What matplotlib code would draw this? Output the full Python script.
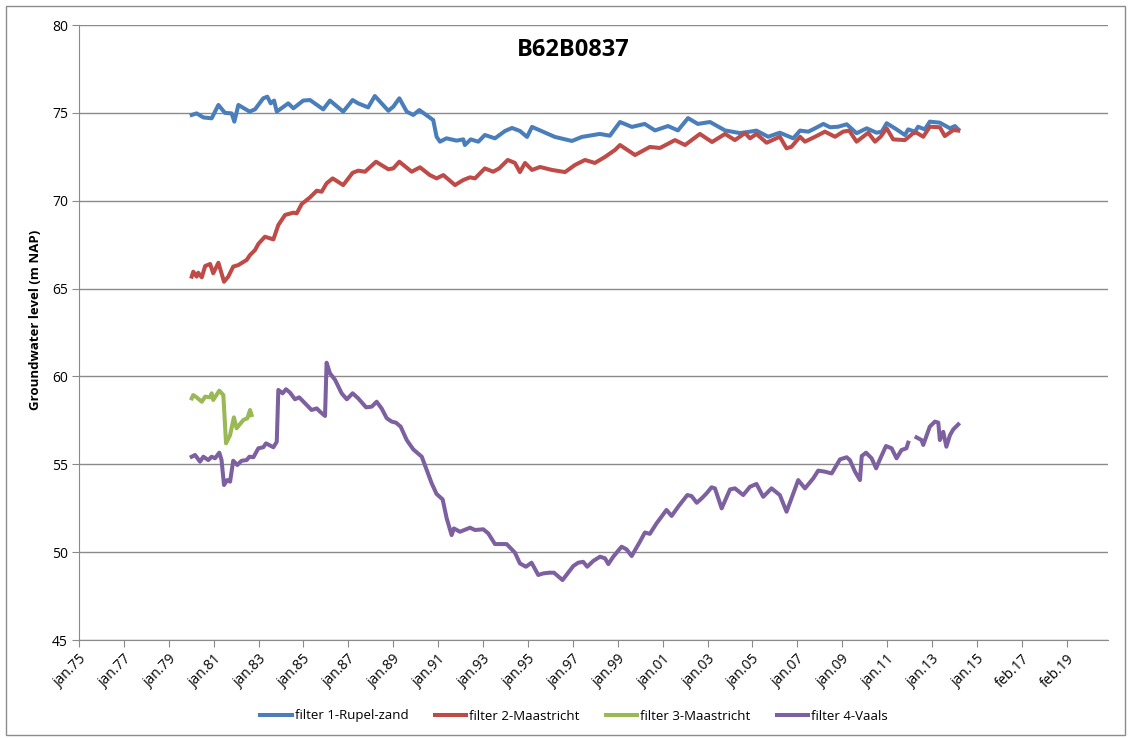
import numpy as np
import matplotlib.pyplot as plt
from matplotlib.patches import Rectangle

plt.rcParams['font.family'] = ['Open Sans', 'DejaVu Sans']

# filter 1-Rupel-zand
t1 = [1980.02, 1980.24, 1980.54, 1980.91, 1981.21, 1981.5, 1981.8, 1981.92, 1982.1,
      1982.6, 1982.84, 1983.21, 1983.39, 1983.54, 1983.69, 1983.81, 1984.32, 1984.55,
      1984.99, 1985.29, 1985.88, 1986.18, 1986.77, 1987.19, 1987.44, 1987.88, 1988.18,
      1988.78, 1989.0, 1989.27, 1989.6, 1989.89, 1990.16, 1990.78, 1990.93, 1991.08,
      1991.37, 1991.82, 1992.12, 1992.19, 1992.45, 1992.79, 1993.08, 1993.53, 1993.98,
      1994.29, 1994.64, 1994.96, 1995.18, 1995.54, 1996.2, 1996.96, 1997.4, 1998.2,
      1998.65, 1999.1, 1999.63, 2000.2, 2000.66, 2001.24, 2001.68, 2002.13, 2002.57,
      2003.11, 2003.78, 2004.44, 2004.89, 2005.18, 2005.7, 2006.22, 2006.82, 2007.12,
      2007.49, 2007.79, 2008.16, 2008.46, 2008.82, 2009.2, 2009.64, 2010.09, 2010.53,
      2010.76, 2010.98, 2011.42, 2011.79, 2011.94, 2012.24, 2012.38, 2012.68, 2012.9,
      2013.35, 2013.8, 2014.02, 2014.17]
v1 = [74.88, 74.97, 74.74, 74.69, 75.45, 75.0, 74.97, 74.5, 75.45,
      75.07, 75.2, 75.83, 75.92, 75.54, 75.7, 75.07, 75.54, 75.26,
      75.7, 75.73, 75.2, 75.7, 75.07, 75.73, 75.54, 75.31, 75.96,
      75.12, 75.35, 75.83, 75.07, 74.88, 75.16, 74.59, 73.64, 73.36,
      73.55, 73.42, 73.49, 73.17, 73.49, 73.36, 73.74, 73.55, 73.97,
      74.14, 73.97, 73.63, 74.2, 74.0, 73.63, 73.4, 73.63, 73.8,
      73.7, 74.48, 74.2, 74.37, 74.0, 74.25, 74.0, 74.7, 74.37,
      74.48, 74.0, 73.85, 73.93, 73.99, 73.64, 73.87, 73.55, 73.99,
      73.93, 74.12, 74.37, 74.18, 74.21, 74.35, 73.84, 74.12, 73.87,
      73.93, 74.41, 74.06, 73.74, 74.06, 73.93, 74.21, 74.06, 74.5,
      74.44, 74.12, 74.25, 74.06]

# filter 2-Maastricht
t2 = [1980.02, 1980.09, 1980.24, 1980.31, 1980.47, 1980.62, 1980.84, 1980.98, 1981.21,
      1981.46, 1981.65, 1981.87, 1982.1, 1982.47, 1982.62, 1982.84, 1982.99, 1983.28,
      1983.66, 1983.88, 1984.18, 1984.55, 1984.7, 1984.92, 1985.29, 1985.59, 1985.81,
      1986.03, 1986.3, 1986.77, 1987.19, 1987.44, 1987.74, 1988.23, 1988.78, 1989.0,
      1989.27, 1989.82, 1990.19, 1990.63, 1990.93, 1991.23, 1991.75, 1992.12, 1992.42,
      1992.64, 1993.08, 1993.45, 1993.72, 1994.1, 1994.42, 1994.64, 1994.87, 1995.18,
      1995.54, 1996.07, 1996.65, 1997.09, 1997.54, 1997.98, 1998.43, 1998.88, 1999.1,
      1999.77, 2000.43, 2000.88, 2001.55, 2002.0, 2002.66, 2003.2, 2003.78, 2004.22,
      2004.67, 2004.89, 2005.18, 2005.63, 2006.22, 2006.52, 2006.74, 2007.12, 2007.34,
      2007.79, 2008.23, 2008.68, 2009.04, 2009.31, 2009.64, 2010.16, 2010.46, 2010.71,
      2010.98, 2011.27, 2011.79, 2012.16, 2012.31, 2012.61, 2012.9, 2013.35, 2013.57,
      2013.95, 2014.17]
v2 = [65.68, 65.96, 65.68, 65.9, 65.64, 66.28, 66.4, 65.87, 66.47,
      65.39, 65.68, 66.25, 66.34, 66.63, 66.91, 67.19, 67.54, 67.95,
      67.8, 68.62, 69.19, 69.32, 69.28, 69.81, 70.19, 70.57, 70.51,
      70.99, 71.27, 70.89, 71.59, 71.71, 71.65, 72.22, 71.79, 71.84,
      72.22, 71.65, 71.9, 71.46, 71.27, 71.46, 70.89, 71.18, 71.33,
      71.27, 71.84, 71.65, 71.84, 72.32, 72.15, 71.63, 72.15, 71.75,
      71.92, 71.75, 71.63, 72.03, 72.32, 72.15, 72.49, 72.89, 73.17,
      72.6, 73.06, 73.0, 73.45, 73.17, 73.8, 73.34, 73.8, 73.45,
      73.85, 73.55, 73.8, 73.3, 73.64, 72.98, 73.07, 73.64, 73.36,
      73.64, 73.93, 73.64, 73.93, 73.99, 73.36, 73.87, 73.36, 73.64,
      74.12, 73.49, 73.45, 73.84, 73.87, 73.64, 74.21, 74.18, 73.68,
      74.02, 73.99]

# filter 3-Maastricht
t3 = [1980.02, 1980.09, 1980.24, 1980.47, 1980.62, 1980.84, 1980.91, 1980.98, 1981.25,
      1981.43, 1981.55, 1981.73, 1981.9, 1982.02, 1982.32, 1982.5, 1982.62, 1982.69]
v3 = [58.75, 58.94, 58.81, 58.56, 58.85, 58.81, 59.04, 58.66, 59.19,
      58.94, 56.19, 56.66, 57.67, 57.05, 57.52, 57.62, 58.09, 57.8]

# filter 4-Vaals (gap early 2012)
t4 = [1980.02, 1980.17, 1980.39, 1980.54, 1980.76, 1980.91, 1981.06, 1981.25, 1981.35,
      1981.46, 1981.6, 1981.73, 1981.87, 1982.05, 1982.24, 1982.47, 1982.59, 1982.77,
      1982.99, 1983.21, 1983.33, 1983.66, 1983.81, 1983.88, 1984.07, 1984.22, 1984.4,
      1984.62, 1984.81, 1985.07, 1985.36, 1985.59, 1985.74, 1985.96, 1986.03, 1986.18,
      1986.41, 1986.7, 1986.93, 1987.19, 1987.44, 1987.79, 1988.04, 1988.26, 1988.48,
      1988.71, 1988.93, 1989.12, 1989.33, 1989.6, 1989.89, 1990.27, 1990.49, 1990.71,
      1990.93, 1991.2, 1991.38, 1991.6, 1991.7, 1991.97, 1992.42, 1992.64, 1993.01,
      1993.23, 1993.53, 1994.05, 1994.42, 1994.64, 1994.91, 1995.16, 1995.46, 1995.68,
      1995.95, 1996.16, 1996.54, 1997.02, 1997.24, 1997.46, 1997.64, 1997.91, 1998.21,
      1998.43, 1998.58, 1998.8, 1999.17, 1999.39, 1999.62, 1999.99, 2000.21, 2000.43,
      2000.73, 2001.17, 2001.4, 2001.7, 2002.1, 2002.29, 2002.52, 2002.74, 2002.96,
      2003.18, 2003.33, 2003.63, 2004.0, 2004.22, 2004.59, 2004.89, 2005.18, 2005.48,
      2005.85, 2006.22, 2006.52, 2007.04, 2007.34, 2007.71, 2007.93, 2008.23, 2008.53,
      2008.9, 2009.2, 2009.34, 2009.57, 2009.79, 2009.87, 2010.06, 2010.31, 2010.51,
      2010.68, 2010.95, 2011.2, 2011.42, 2011.64, 2011.86, 2011.94, 2012.1, 2012.31,
      2012.53, 2012.61, 2012.9, 2013.13, 2013.28, 2013.35, 2013.5, 2013.64, 2013.8,
      2013.95, 2014.17]
v4 = [55.43, 55.53, 55.15, 55.43, 55.24, 55.43, 55.34, 55.66, 55.24,
      53.82, 54.1, 54.01, 55.2, 54.96, 55.2, 55.24, 55.43, 55.4,
      55.91, 55.97, 56.19, 55.97, 56.28, 59.23, 59.04, 59.27, 59.08,
      58.7, 58.81, 58.47, 58.09, 58.18, 57.99, 57.75, 60.78, 60.18,
      59.8, 59.04, 58.7, 59.04, 58.75, 58.24, 58.28, 58.56, 58.18,
      57.62, 57.43, 57.37, 57.14, 56.38, 55.85, 55.43, 54.67, 53.92,
      53.31, 53.0, 51.92, 50.97, 51.35, 51.16, 51.39, 51.26, 51.3,
      51.07, 50.46, 50.46, 49.97, 49.36, 49.17, 49.4, 48.7, 48.79,
      48.83, 48.83, 48.41, 49.21, 49.4, 49.45, 49.17, 49.5, 49.74,
      49.65, 49.32, 49.74, 50.31, 50.16, 49.78, 50.6, 51.12, 51.04,
      51.64, 52.4, 52.06, 52.6, 53.25, 53.19, 52.81, 53.06, 53.35,
      53.69, 53.63, 52.49, 53.57, 53.63, 53.25, 53.72, 53.88, 53.15,
      53.63, 53.25, 52.3, 54.1, 53.63, 54.2, 54.64, 54.58, 54.48,
      55.28, 55.4, 55.24, 54.58, 54.1, 55.47, 55.66, 55.34, 54.77,
      55.28, 56.04, 55.91, 55.34, 55.81, 55.91, 56.23, np.nan, 56.53,
      56.38, 56.1, 57.14, 57.43, 57.37, 56.38, 56.85, 56.0, 56.66,
      56.99, 57.27]

tick_years = list(range(1975, 2020, 2))
tick_labels = ['jan.75', 'jan.77', 'jan.79', 'jan.81', 'jan.83', 'jan.85', 'jan.87',
               'jan.89', 'jan.91', 'jan.93', 'jan.95', 'jan.97', 'jan.99', 'jan.01',
               'jan.03', 'jan.05', 'jan.07', 'jan.09', 'jan.11', 'jan.13', 'jan.15',
               'feb.17', 'feb.19']

series = [
    (t1, v1, 'filter 1-Rupel-zand', '#4A7EBB'),
    (t2, v2, 'filter 2-Maastricht', '#BE4B48'),
    (t3, v3, 'filter 3-Maastricht', '#98B954'),
    (t4, v4, 'filter 4-Vaals', '#7D60A0'),
]

fig = plt.figure(figsize=(11.32, 7.38), dpi=100)
ax = fig.add_axes([79 / 1132, 1 - 640 / 738, 1029 / 1132, 615 / 738])

# chart frame
fig.patches.append(Rectangle((6 / 1132, 3 / 738), 1119 / 1132, 729 / 738,
                             transform=fig.transFigure, fill=False,
                             edgecolor='#8c8c8c', linewidth=1))

for t, v, name, col in series:
    ax.plot(t, v, color=col, linewidth=2.9, label=name, solid_joinstyle='round')

ax.set_xlim(1975, 2020.84)
ax.set_ylim(45, 80)
ax.set_yticks(np.arange(45, 81, 5))
ax.set_xticks(tick_years)
ax.set_xticklabels(tick_labels, rotation=45, ha='right', rotation_mode='anchor')

ax.grid(axis='y', color='#8a8a8a', linewidth=1)
ax.set_axisbelow(True)
for s in ['top', 'right']:
    ax.spines[s].set_visible(False)
for s in ['left', 'bottom']:
    ax.spines[s].set_color('#8a8a8a')
ax.tick_params(axis='both', color='#8a8a8a', length=5, labelsize=10)
ax.tick_params(axis='x', pad=3)
ax.tick_params(axis='y', pad=3)

ax.set_ylabel('Groundwater level (m NAP)', fontsize=9.5, fontweight='bold')
ax.yaxis.set_label_coords(-0.036, 0.52)
fig.text(573 / 1132, 1 - 50 / 738, 'B62B0837', fontsize=17, fontweight='bold',
         ha='center', va='center')

fig.legend(loc='center', bbox_to_anchor=(574 / 1132, 1 - 716 / 738), ncol=4,
           frameon=False, fontsize=9.5, handlelength=2.4, handletextpad=0.2,
           columnspacing=2.0)

fig.savefig('out.png', dpi=100)
